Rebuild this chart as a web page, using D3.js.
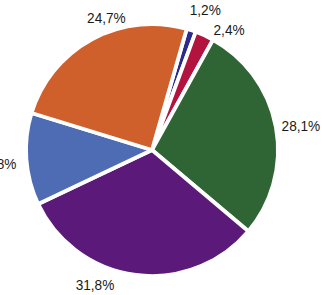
<!DOCTYPE html>
<html lang="en">
<head>
<meta charset="utf-8" />
<title>Pie</title>
<script src="https://d3js.org/d3.v7.min.js"></script>
<style>
    body { margin: 0; background: #fff; overflow: hidden; }
    text { font-family: "Liberation Sans", Arial, sans-serif; font-size: 15.5px; fill: #1a1a1a; }
</style>
</head>
<body>
<svg id="chart" width="322" height="295"></svg>
<script>
    // slice values (percent), clockwise from the top
    const labels = ["1,2%", "2,4%", "28,1%", "31,8%", "11,8%", "24,7%"];
    const values = [1.2, 2.4, 28.1, 31.8, 11.8, 24.7];
    const colors = ["#2b2b8c", "#b3143f", "#2f6535", "#5b1a7a", "#4e6cb3", "#d0602b"];

    const width = 322, height = 295;
    const cx = 152, cy = 150, radius = 126;
    const startDeg = 16;

    // hand placed label offsets (angle in degrees, distance from centre)
    const labelAngle = [20.8, 32.6, 80.5, 203, 265, 341];
    const labelDist = [150, 143, 151, 146, 155, 140];

    const svg = d3.select("#chart");
    const g = svg.append("g").attr("transform", "translate(" + cx + "," + cy + ")");

    const pie = d3.pie()
        .sort(null)
        .value(d => d)
        .startAngle(startDeg * Math.PI / 180)
        .endAngle((startDeg + 360) * Math.PI / 180);

    const arc = d3.arc().innerRadius(0).outerRadius(radius);

    g.selectAll("path")
        .data(pie(values))
        .enter()
        .append("path")
        .attr("d", arc)
        .attr("fill", (d, i) => colors[i])
        .attr("stroke", "#fff")
        .attr("stroke-width", 3.8)
        .attr("stroke-linejoin", "round");

    // condensed look: squeeze the text a little horizontally
    g.selectAll("text")
        .data(labels)
        .enter()
        .append("text")
        .attr("text-anchor", "middle")
        .attr("dy", "0.35em")
        .attr("transform", (d, i) => {
            const a = labelAngle[i] * Math.PI / 180;
            return "translate(" + (Math.sin(a) * labelDist[i]) + "," + (-Math.cos(a) * labelDist[i]) + ") scale(0.88,1)";
        })
        .text(d => d);
</script>
</body>
</html>
